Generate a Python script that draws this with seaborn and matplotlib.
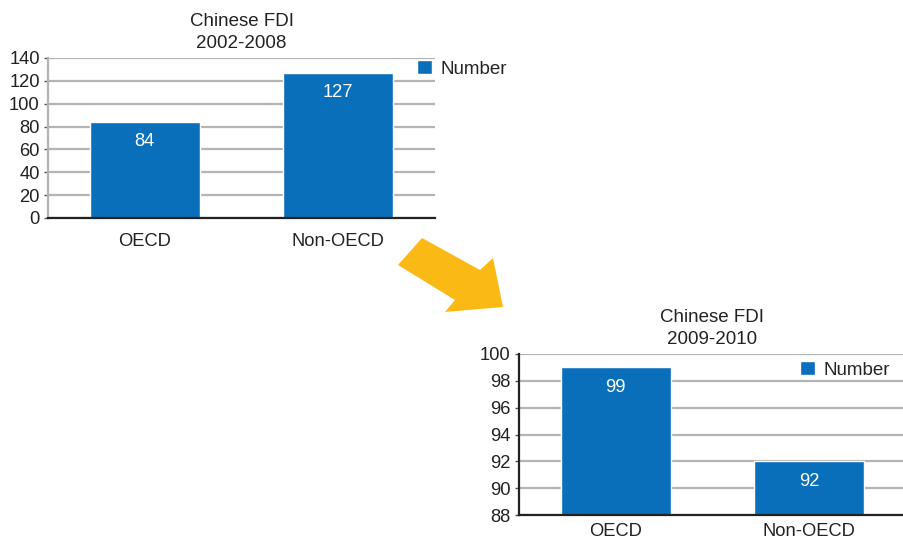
import matplotlib
matplotlib.use("Agg")
import matplotlib.pyplot as plt
import seaborn as sns
import pandas as pd
from matplotlib.patches import Polygon

categories = ["OECD", "Non-OECD"]
values_2002_2008 = [84, 127]
values_2009_2010 = [99, 92]
title_top = "Chinese FDI\n2002-2008"
title_bottom = "Chinese FDI\n2009-2010"
series_name = "Number"
yticks_top = [0, 20, 40, 60, 80, 100, 120, 140]
yticks_bottom = [88, 90, 92, 94, 96, 98, 100]

sns.set_theme(style="white")
plt.rcParams["font.family"] = ["Liberation Sans", "DejaVu Sans"]

BLUE = "#0a6fba"
GRID = "#b4b4b4"
TXT = "#222222"
FS = 13.2

W, H = 904, 539
fig = plt.figure(figsize=(W / 100, H / 100), dpi=100)


def px_axes(l, t, r, b):
    return fig.add_axes([l / W, 1 - b / H, (r - l) / W, (b - t) / H])


def draw(ax, vals, ticks, title, legend_xy, xpad):
    df = pd.DataFrame({"cat": categories, "val": vals})
    sns.barplot(data=df, x="cat", y="val", color=BLUE, width=0.57,
                saturation=1, ax=ax, label=series_name, zorder=3)
    ax.set_xlim(-0.5, 1.5)
    ax.set_ylim(ticks[0], ticks[-1])
    ax.set_yticks(ticks)
    ax.set_xlabel("")
    ax.set_ylabel("")
    ax.yaxis.grid(True, color=GRID, linewidth=1.6, zorder=0)
    ax.set_axisbelow(True)
    for s in ["top", "right"]:
        ax.spines[s].set_visible(False)
    ax.spines["bottom"].set_color(TXT)
    ax.spines["bottom"].set_linewidth(1.6)
    ax.spines["bottom"].set_zorder(4)
    ax.tick_params(axis="y", labelsize=FS, length=3, width=1, color="#555555",
                   left=True, pad=3, labelcolor=TXT)
    ax.tick_params(axis="x", labelsize=FS, length=0, pad=xpad, labelcolor=TXT)
    ax.set_title(title, fontsize=13.5, color=TXT, pad=7, linespacing=1.4)
    for bar, v in zip(ax.patches, vals):
        ax.annotate(str(v), xy=(bar.get_x() + bar.get_width() / 2, v),
                    xytext=(0, -20), textcoords="offset pixels",
                    ha="center", va="center", color="white", fontsize=FS,
                    zorder=5)
    ax.legend(loc="upper left", bbox_to_anchor=legend_xy,
              bbox_transform=fig.transFigure, frameon=False, fontsize=13.5,
              handlelength=0.8, handleheight=0.8, handletextpad=0.45,
              borderpad=0, borderaxespad=0)


ax1 = px_axes(48, 58, 435, 218)
draw(ax1, values_2002_2008, yticks_top, title_top, (417 / W, 1 - 60 / H), 11)
ax1.spines["left"].set_color(GRID)
ax1.spines["left"].set_linewidth(1.6)

ax2 = px_axes(519, 354, 906, 515)
draw(ax2, values_2009_2010, yticks_bottom, title_bottom, (800 / W, 1 - 361 / H), 6)
ax2.spines["left"].set_color(TXT)
ax2.spines["left"].set_linewidth(1.6)

# decorative arrow between the charts (pixel coordinates, top-origin)
arrow_px = [(422, 238), (480, 270), (493, 258), (503, 307),
            (445, 312), (455, 300), (398, 265)]
arrow = Polygon([(x / W, 1 - y / H) for x, y in arrow_px], closed=True,
                transform=fig.transFigure, facecolor="#fbb916",
                edgecolor="none", zorder=10)
fig.patches.append(arrow)

fig.savefig("out.png", dpi=100)
